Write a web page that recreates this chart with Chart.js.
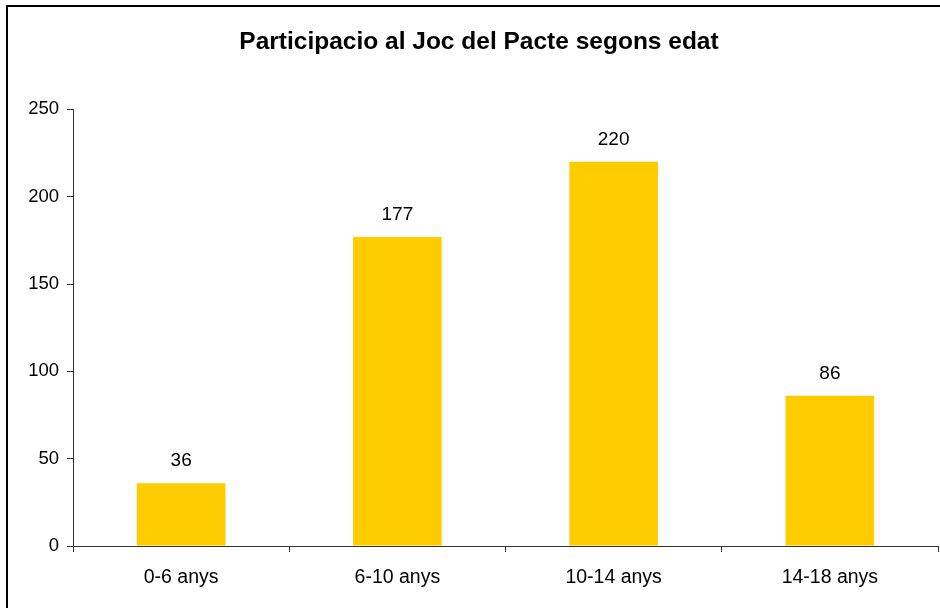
<!DOCTYPE html>
<html>
<head>
<meta charset="utf-8">
<script src="https://cdn.jsdelivr.net/npm/chart.js@4/dist/chart.umd.min.js"></script>
<style>
  html, body { margin: 0; padding: 0; background: #fff; }
  #wrap { width: 940px; height: 608px; position: relative; }
</style>
</head>
<body>
<div id="wrap"><canvas id="c" width="940" height="608"></canvas></div>
<script>
const chartTitle = "Participacio al Joc del Pacte segons edat";
const categories = ["0-6 anys", "6-10 anys", "10-14 anys", "14-18 anys"];
const participants = [36, 177, 220, 86];
const yMin = 0, yMax = 250, yStep = 50;

const FONT = "'Liberation Sans', Arial, sans-serif";
const TITLE_FONT = "bold 24.5px " + FONT;

const frame = {
  id: 'frame',
  beforeDraw(chart) {
    const ctx = chart.ctx;
    ctx.save();
    ctx.fillStyle = '#fff';
    ctx.fillRect(0, 0, chart.width, chart.height);
    ctx.strokeStyle = '#000';
    ctx.lineWidth = 2;
    ctx.beginPath();
    ctx.moveTo(7, 1000);
    ctx.lineTo(7, 6);
    ctx.lineTo(1000, 6);
    ctx.stroke();
    ctx.restore();
  },
  afterDraw(chart) {
    // title drawn centred on the framed area
    const ctx = chart.ctx;
    const t = chart.titleBlock;
    ctx.save();
    ctx.font = TITLE_FONT;
    ctx.fillStyle = '#000';
    ctx.textAlign = 'center';
    ctx.textBaseline = 'middle';
    const cy = t.top + t.options.padding.top + t.height ? (t.top + 28 + 14.7) : 42;
    ctx.fillText(chartTitle, chart.width / 2 + 9, cy);
    ctx.restore();
  }
};

const valueLabels = {
  id: 'valueLabels',
  afterDatasetsDraw(chart) {
    const ctx = chart.ctx;
    const meta = chart.getDatasetMeta(0);
    ctx.save();
    ctx.font = "19px " + FONT;
    ctx.fillStyle = '#000';
    ctx.textAlign = 'center';
    ctx.textBaseline = 'middle';
    meta.data.forEach((bar, i) => {
      ctx.fillText(String(chart.data.datasets[0].data[i]), bar.x, bar.y - 22);
    });
    ctx.restore();
  }
};

new Chart(document.getElementById('c'), {
  type: 'bar',
  data: {
    labels: categories,
    datasets: [{
      data: participants,
      backgroundColor: '#FFCC00',
      borderWidth: 0,
      barPercentage: 0.41,
      categoryPercentage: 1.0
    }]
  },
  options: {
    responsive: false,
    animation: false,
    devicePixelRatio: 1,
    layout: { padding: { left: 0, right: 2, top: 0, bottom: 0 } },
    plugins: {
      legend: { display: false },
      tooltip: { enabled: false },
      title: {
        display: true,
        text: chartTitle,
        color: 'rgba(0,0,0,0)',
        font: { family: FONT, size: 24.5, weight: 'bold' },
        padding: { top: 28, bottom: 52 }
      }
    },
    scales: {
      x: {
        offset: true,
        grid: { display: true, drawOnChartArea: false, drawTicks: true, tickLength: 6, color: '#333', offset: true },
        border: { display: true, color: '#333', width: 1 },
        ticks: { color: '#000', font: { family: FONT, size: 19.5 }, padding: 14, maxRotation: 0 },
        afterFit(scale) { scale.height = 62; }
      },
      y: {
        min: yMin, max: yMax,
        grid: { display: true, drawOnChartArea: false, drawTicks: true, tickLength: 6, color: '#333' },
        border: { display: true, color: '#333', width: 1 },
        ticks: { stepSize: yStep, color: '#000', font: { family: FONT, size: 18.5 }, padding: 8 },
        afterFit(scale) { scale.width = 73; }
      }
    }
  },
  plugins: [frame, valueLabels]
});
</script>
</body>
</html>
